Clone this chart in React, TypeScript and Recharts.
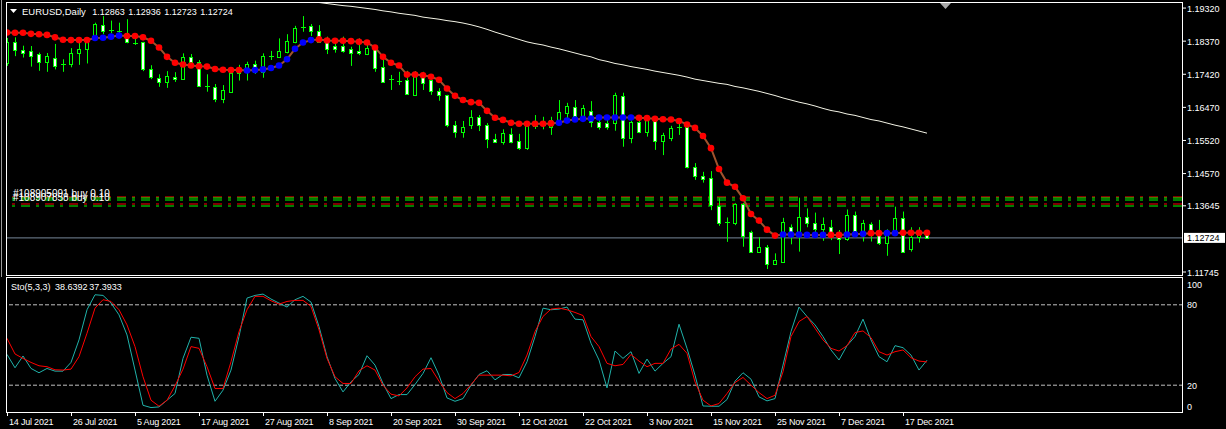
import { Bar, ComposedChart, Line, ReferenceLine, XAxis, YAxis } from "recharts";

// EURUSD daily, 14 Jul 2021 .. 22 Dec 2021 (one entry per trading day)
const opens = [
  1.1773, 1.1834, 1.1811, 1.1808, 1.1799, 1.1778, 1.179, 1.1771, 1.1771, 1.1802,
  1.1814, 1.1842, 1.1884, 1.1867, 1.1867, 1.1861, 1.1833, 1.1834, 1.1758, 1.1732,
  1.1719, 1.1734, 1.1728, 1.1792, 1.1776, 1.1707, 1.1706, 1.1672, 1.1692, 1.1745,
  1.1756, 1.1771, 1.1749, 1.1794, 1.1792, 1.1807, 1.1835, 1.1876, 1.1881, 1.1867,
  1.1837, 1.1822, 1.1822, 1.1814, 1.1809, 1.1801, 1.1817, 1.1762, 1.1728, 1.1724,
  1.1726, 1.1683, 1.1738, 1.1726, 1.1694, 1.1682, 1.1596, 1.1575, 1.1597, 1.1618,
  1.1597, 1.1555, 1.1548, 1.157, 1.155, 1.153, 1.1594, 1.1596, 1.1592, 1.1609,
  1.1632, 1.1647, 1.162, 1.1637, 1.1604, 1.1601, 1.1601, 1.168, 1.156, 1.1604,
  1.1575, 1.1613, 1.1551, 1.1558, 1.1589, 1.159, 1.1477, 1.145, 1.1443, 1.1365,
  1.1316, 1.1316, 1.1369, 1.129, 1.1233, 1.1245, 1.1197, 1.1204, 1.1303, 1.129,
  1.1333, 1.1316, 1.1298, 1.1305, 1.1283, 1.1268, 1.1339, 1.129, 1.1311, 1.1284,
  1.1257, 1.129, 1.1329, 1.124, 1.1274, 1.12863,
];
const highs = [
  1.1846, 1.1848, 1.1824, 1.1823, 1.1804, 1.1803, 1.1829, 1.1785, 1.1817, 1.184,
  1.1843, 1.189, 1.1909, 1.1896, 1.189, 1.19, 1.1854, 1.1835, 1.1768, 1.1742,
  1.1751, 1.1748, 1.1802, 1.18, 1.1783, 1.1742, 1.1714, 1.1711, 1.1749, 1.1769,
  1.1778, 1.1781, 1.1802, 1.1809, 1.1845, 1.1857, 1.1881, 1.1909, 1.1886, 1.1883,
  1.185, 1.1842, 1.185, 1.1821, 1.1845, 1.1833, 1.1821, 1.1783, 1.174, 1.1749,
  1.1752, 1.1751, 1.1749, 1.1735, 1.1702, 1.1683, 1.1608, 1.1608, 1.1639, 1.1625,
  1.1602, 1.1571, 1.1584, 1.1587, 1.1571, 1.1596, 1.1625, 1.162, 1.162, 1.1668,
  1.166, 1.1668, 1.1654, 1.1665, 1.1625, 1.1625, 1.1689, 1.1689, 1.1609, 1.1613,
  1.1616, 1.1617, 1.1574, 1.1594, 1.1609, 1.1601, 1.1487, 1.1462, 1.1464, 1.1386,
  1.1331, 1.1372, 1.1373, 1.1293, 1.1274, 1.1252, 1.1228, 1.133, 1.1311, 1.1388,
  1.1357, 1.1345, 1.1331, 1.1324, 1.1295, 1.1354, 1.1348, 1.1324, 1.1317, 1.1324,
  1.1297, 1.1362, 1.1348, 1.1303, 1.1303, 1.12936,
];
const lows = [
  1.1766, 1.1794, 1.179, 1.1764, 1.1752, 1.1749, 1.1756, 1.1749, 1.1762, 1.1769,
  1.1773, 1.1838, 1.1857, 1.186, 1.185, 1.1831, 1.1826, 1.1751, 1.1728, 1.1706,
  1.1703, 1.172, 1.1726, 1.1768, 1.1706, 1.1692, 1.1662, 1.1659, 1.1691, 1.1724,
  1.1724, 1.1743, 1.1732, 1.1783, 1.1791, 1.1802, 1.1831, 1.1864, 1.1852, 1.1834,
  1.18, 1.1804, 1.1804, 1.1766, 1.1797, 1.1797, 1.1749, 1.1719, 1.1697, 1.1711,
  1.1683, 1.168, 1.1697, 1.1683, 1.1666, 1.159, 1.156, 1.156, 1.1585, 1.1579,
  1.153, 1.1547, 1.154, 1.1544, 1.1525, 1.1525, 1.1585, 1.1584, 1.1568, 1.1606,
  1.1616, 1.1618, 1.1611, 1.159, 1.1583, 1.1583, 1.158, 1.1534, 1.1544, 1.1573,
  1.1563, 1.1525, 1.151, 1.155, 1.1568, 1.1472, 1.1439, 1.1431, 1.1352, 1.1307,
  1.1261, 1.1309, 1.1247, 1.123, 1.1232, 1.1183, 1.1196, 1.1201, 1.1254, 1.1233,
  1.1303, 1.1288, 1.1264, 1.1266, 1.1226, 1.1264, 1.1278, 1.1262, 1.1262, 1.1252,
  1.1221, 1.1286, 1.1232, 1.1233, 1.1259, 1.12723,
];
const closes = [
  1.1835, 1.1812, 1.1804, 1.1795, 1.1778, 1.1794, 1.1767, 1.177, 1.1802, 1.1815,
  1.1842, 1.1885, 1.1867, 1.1868, 1.1862, 1.1834, 1.1832, 1.1758, 1.1733, 1.1719,
  1.1736, 1.1728, 1.1792, 1.1776, 1.1708, 1.1706, 1.167, 1.1697, 1.1745, 1.1756,
  1.1771, 1.1749, 1.1794, 1.1795, 1.1808, 1.1837, 1.1875, 1.1877, 1.1867, 1.1835,
  1.1814, 1.1814, 1.1808, 1.1802, 1.1802, 1.1817, 1.1761, 1.1721, 1.1729, 1.1723,
  1.1685, 1.1737, 1.1718, 1.1693, 1.1683, 1.1596, 1.1575, 1.159, 1.1618, 1.1597,
  1.1555, 1.1548, 1.1573, 1.1548, 1.153, 1.1594, 1.1593, 1.1597, 1.1611, 1.1633,
  1.1651, 1.1622, 1.1644, 1.1604, 1.1592, 1.1592, 1.1683, 1.1558, 1.1604, 1.1575,
  1.1613, 1.1551, 1.1568, 1.1587, 1.159, 1.1477, 1.145, 1.1441, 1.1367, 1.1316,
  1.1317, 1.1369, 1.1279, 1.1233, 1.1245, 1.1197, 1.1209, 1.1317, 1.1287, 1.1333,
  1.1316, 1.1298, 1.1311, 1.1283, 1.1269, 1.1339, 1.1292, 1.1314, 1.1283, 1.1257,
  1.129, 1.1329, 1.1233, 1.1274, 1.1286, 1.12724,
];

// dotted trend indicator (blue dots = rising, red dots = falling)
const trendLine = [
  1.1862, 1.1861, 1.1861, 1.1858, 1.1857, 1.1855, 1.1848, 1.1841, 1.184, 1.184,
  1.184, 1.1846, 1.1847, 1.185, 1.1853, 1.1852, 1.1852, 1.1848, 1.1838, 1.1819,
  1.1792, 1.1775, 1.177, 1.1767, 1.1765, 1.1764, 1.1757, 1.1755, 1.1754, 1.1754,
  1.1753, 1.1754, 1.1756, 1.176, 1.1767, 1.1785, 1.1815, 1.1833, 1.184, 1.1842,
  1.1839, 1.1838, 1.1838, 1.1837, 1.1835, 1.1833, 1.1819, 1.1792, 1.1775, 1.1767,
  1.1741, 1.1741, 1.1739, 1.1735, 1.1726, 1.1701, 1.168, 1.1668, 1.1662, 1.166,
  1.1637, 1.1617, 1.1611, 1.1603, 1.16, 1.16, 1.16, 1.16, 1.1601, 1.1603,
  1.1609, 1.1612, 1.1614, 1.1615, 1.1618, 1.1618, 1.1618, 1.1618, 1.1618, 1.1617,
  1.1616, 1.1614, 1.1613, 1.1612, 1.1608, 1.1598, 1.1588, 1.1565, 1.153, 1.147,
  1.1431, 1.1419, 1.1386, 1.1341, 1.1322, 1.1296, 1.1279, 1.1282, 1.1282, 1.1282,
  1.1281, 1.1281, 1.1281, 1.1281, 1.1281, 1.1282, 1.1283, 1.1284, 1.1286, 1.1286,
  1.1286, 1.1286, 1.1287, 1.1287, 1.1287, 1.1287,
];
const trendUp = [
  0, 0, 0, 0, 0, 0, 0, 0, 0, 0, 0, 1, 1, 1, 1, 0, 0, 0, 0, 0,
  0, 0, 0, 0, 0, 0, 0, 0, 0, 0, 1, 1, 1, 1, 1, 1, 1, 1, 1, 0,
  0, 0, 0, 0, 0, 0, 0, 0, 0, 0, 0, 0, 0, 0, 0, 0, 0, 0, 0, 0,
  0, 0, 0, 0, 0, 0, 0, 0, 0, 1, 1, 1, 1, 1, 1, 1, 1, 1, 1, 0,
  0, 0, 0, 0, 0, 0, 0, 0, 0, 0, 0, 0, 0, 0, 0, 0, 0, 1, 1, 1,
  1, 1, 1, 0, 0, 1, 1, 1, 0, 0, 1, 1, 0, 0, 0, 0,
];

// long moving average, visible from bar 39 on (above the window before that)
const maStart = 39;
const maValues = [
  1.1948, 1.1945, 1.1942, 1.1939, 1.1937, 1.1934, 1.1931, 1.1928, 1.1924, 1.1921,
  1.1917, 1.1914, 1.1911, 1.1906, 1.1903, 1.19, 1.1896, 1.1893, 1.1889, 1.1884,
  1.1878, 1.1871, 1.1863, 1.1856, 1.1849, 1.1842, 1.1835, 1.183, 1.1826, 1.182,
  1.1815, 1.1809, 1.1803, 1.1797, 1.1792, 1.1784, 1.1779, 1.1773, 1.1769, 1.1764,
  1.176, 1.1756, 1.1751, 1.1747, 1.1743, 1.1739, 1.1734, 1.1728, 1.1724, 1.172,
  1.1716, 1.1713, 1.1707, 1.1703, 1.1698, 1.1693, 1.1687, 1.1681, 1.1674, 1.1668,
  1.1662, 1.1657, 1.1651, 1.1644, 1.1638, 1.1634, 1.1628, 1.1624, 1.1618, 1.1612,
  1.1608, 1.1602, 1.1596, 1.1591, 1.1585, 1.1579, 1.1573,
];

// Stochastic(5,3,3)
const stoMain = [
  43, 33, 41.8, 32.5, 29.3, 32.5, 30.5, 30.5, 37, 53.8,
  76.3, 87.5, 87, 81.3, 72.5, 57.5, 31.3, 5, 3.3, 3.8,
  8.8, 13.8, 40, 55.8, 55, 27.5, 8, 16.3, 31.3, 56.3,
  85, 87, 88, 84.3, 81.3, 78.3, 83.8, 86.3, 82, 63.8,
  41.3, 25, 15, 22.5, 28, 42, 35, 21.3, 10, 13,
  13, 20.5, 28.8, 40.5, 27.5, 10.5, 8, 10, 20, 28,
  30.8, 24, 28, 28, 25.5, 37.5, 56.3, 77.5, 76.3, 76.8,
  78.3, 69.3, 68.8, 51.3, 38.8, 18, 45.5, 40, 45, 28.8,
  39.5, 30.5, 36.3, 41.3, 65.5, 47.5, 27.5, 4.5, 4.3, 4.3,
  9.3, 23, 29.3, 24.5, 11.3, 8.3, 10, 35, 60, 78.3,
  71.3, 65, 56.3, 46.3, 38.8, 49.5, 56.3, 69.3, 53.8, 41.3,
  37.5, 49.5, 48, 42.5, 31.3, 38.6392,
];
const stoSignal = [
  55, 43.3, 40, 37, 34.5, 33.8, 31.5, 31.3, 32, 41.3,
  58.8, 77.5, 83.8, 82.5, 76.3, 65, 48.8, 26.3, 8.8, 4.3,
  8.8, 19.5, 32, 48.8, 47.5, 33.8, 17.5, 17.5, 37.5, 60,
  76.3, 86.3, 86.3, 83, 80.5, 82.5, 83.3, 83.3, 78.8, 61.3,
  40, 26.3, 21.3, 21.3, 30.8, 34.5, 31.3, 20, 13.3, 12,
  18, 26.3, 32, 32.5, 23, 14.5, 10, 13.8, 20.5, 27.5,
  27.5, 27.5, 27.5, 27, 29.5, 42.5, 60, 71.3, 76.8, 77.5,
  76.3, 74.3, 72, 56.3, 48.8, 36.3, 34.5, 35.5, 43, 38,
  33.8, 36.3, 36.3, 47, 50.5, 43.8, 22.5, 8.8, 4.5, 6.3,
  13.8, 22, 25.8, 20, 14.5, 10, 12.5, 30, 56.3, 67.5,
  71.3, 62.5, 53.8, 47.5, 45.5, 49.5, 59.3, 60.5, 55.5, 45,
  42.5, 45, 46.3, 40.5, 38, 37.3933,
];

const dateTicks = [0, 8, 16, 24, 32, 40, 48, 56, 64, 72, 80, 88, 96, 104, 112];
const dateLabels = [
  "14 Jul 2021", "26 Jul 2021", "5 Aug 2021", "17 Aug 2021", "27 Aug 2021",
  "8 Sep 2021", "20 Sep 2021", "30 Sep 2021", "12 Oct 2021", "22 Oct 2021",
  "3 Nov 2021", "15 Nov 2021", "25 Nov 2021", "7 Dec 2021", "17 Dec 2021",
];
const priceTicks = [1.1932, 1.1837, 1.1742, 1.1647, 1.1552, 1.1457, 1.13645, 1.11745];
const stoTicks = [100, 80, 20, 0];
const stoLevels = [80, 20];

// open order lines
const orderPrices = [1.13898, 1.13869, 1.13811, 1.13697, 1.13639];
const orderColors = ["#ff0000", "#00ff00", "#00ff00", "#ff0000", "#00ff00"];
const orderLabels = ["#108905091 buy 0.10", "#108907858 buy 0.10"];

const symbol = "EURUSD,Daily";
const lastBar = [1.12863, 1.12936, 1.12723, 1.12724];
const bid = 1.12724;

const X_DOMAIN: [number, number] = [-0.125, 147];
const PRICE_DOMAIN: [number, number] = [1.11659, 1.19494];
const FONT = '"Liberation Sans", Arial, sans-serif';
const FS = 9;
const GREEN = "#00ff00";

const candles = opens.map((open, i) => ({
  i,
  open,
  high: highs[i],
  low: lows[i],
  close: closes[i],
  trend: trendLine[i],
  up: trendUp[i] === 1,
  ma: i >= maStart ? maValues[i - maStart] : null,
}));

const stoData = stoMain.map((main, i) => ({ i, main, signal: stoSignal[i] }));

function Candle(props: any) {
  const { x, y, width, height, payload } = props;
  if (!payload || x == null) return null;
  const top = Math.min(y, y + height);
  const bot = Math.max(y, y + height);
  const range = payload.high - payload.low || 1;
  const py = (v: number) => top + ((payload.high - v) / range) * (bot - top);
  const xc = Math.round(x + width / 2);
  const yo = py(payload.open);
  const yc = py(payload.close);
  const bTop = Math.round(Math.min(yo, yc));
  const bBot = Math.round(Math.max(yo, yc));
  const bear = payload.close < payload.open;
  return (
    <g>
      <line x1={xc + 0.5} x2={xc + 0.5} y1={top} y2={bot} stroke={GREEN} strokeWidth={1} />
      {bBot - bTop < 2 ? (
        <line x1={xc - 2} x2={xc + 3} y1={bTop + 0.5} y2={bTop + 0.5} stroke={GREEN} strokeWidth={1} />
      ) : (
        <rect
          x={xc - 1.5}
          y={bTop + 0.5}
          width={3}
          height={bBot - bTop}
          fill={bear ? "#ffffff" : "#000000"}
          stroke={GREEN}
          strokeWidth={1}
        />
      )}
    </g>
  );
}

function PriceTick(props: any) {
  const { x, y, payload } = props;
  return (
    <text x={x} y={y + 3.5} fill="#ffffff" fontSize={FS} fontFamily={FONT}>
      {Number(payload.value).toFixed(5)}
    </text>
  );
}

function StoTick(props: any) {
  const { x, y, payload } = props;
  const shift = payload.value === 100 ? 6 : payload.value === 0 ? -6 : 0;
  return (
    <text x={x} y={y + shift + 3.5} fill="#ffffff" fontSize={FS} fontFamily={FONT}>
      {payload.value}
    </text>
  );
}

function DateTick(props: any) {
  const { x, y, payload } = props;
  const k = dateTicks.indexOf(payload.value);
  const xc = Math.round(x);
  return (
    <g>
      <line x1={xc + 0.5} x2={xc + 0.5} y1={y} y2={y + 4} stroke="#ffffff" />
      <text x={xc + 2} y={y + 12.5} fill="#ffffff" fontSize={FS} fontFamily={FONT} letterSpacing={-0.2}>
        {dateLabels[k]}
      </text>
    </g>
  );
}

function BidLabel(props: any) {
  const vb = props.viewBox;
  if (!vb) return null;
  const x = vb.x + vb.width + 1;
  const y = vb.y;
  return (
    <g>
      <rect x={x} y={y - 5} width={41} height={10} fill="#ffffff" />
      <text x={x + 3} y={y + 3.5} fill="#000000" fontSize={FS} fontFamily={FONT}>
        {bid.toFixed(5)}
      </text>
    </g>
  );
}

export default function App() {
  const txt = { fill: "#ffffff", fontSize: FS, fontFamily: FONT } as const;
  return (
    <div
      style={{
        position: "fixed",
        left: 0,
        top: 0,
        width: 1226,
        height: 429,
        background: "#000000",
        overflow: "hidden",
      }}
    >
      <div style={{ position: "absolute", left: 0, top: 0 }}>
        <ComposedChart width={1226} height={278} data={candles} margin={{ top: 2, right: 0, bottom: 3, left: 6 }}>
          <XAxis type="number" dataKey="i" domain={X_DOMAIN} allowDataOverflow hide />
          <YAxis
            orientation="right"
            width={43}
            domain={PRICE_DOMAIN}
            allowDataOverflow
            ticks={priceTicks}
            interval={0}
            axisLine={false}
            tickLine={{ stroke: "#ffffff" }}
            tickSize={3}
            tickMargin={1}
            tick={<PriceTick />}
          />
          {orderPrices.map((p, k) => (
            <ReferenceLine
              key={k}
              y={p}
              stroke={orderColors[k]}
              strokeDasharray="3 6 9 6"
              strokeDashoffset={8}
            />
          ))}
          <ReferenceLine y={bid} stroke="#778899" label={BidLabel} />
          <Line dataKey="ma" stroke="#f4f4e6" strokeWidth={1} dot={false} isAnimationActive={false} />
          <Line
            dataKey="trend"
            stroke="#a0522d"
            strokeWidth={2}
            isAnimationActive={false}
            dot={(p: any) => (
              <circle
                key={`t${p.index}`}
                cx={p.cx}
                cy={p.cy}
                r={3.3}
                fill={p.payload && p.payload.up ? "#0000ff" : "#ff0000"}
              />
            )}
          />
          <Bar
            dataKey={(d: any) => [d.low, d.high]}
            barSize={5}
            shape={Candle}
            isAnimationActive={false}
            zIndex={500}
          />
        </ComposedChart>
      </div>

      <div style={{ position: "absolute", left: 0, top: 277 }}>
        <ComposedChart width={1226} height={152} data={stoData} margin={{ top: 1, right: 0, bottom: 0, left: 6 }}>
          <XAxis
            type="number"
            dataKey="i"
            domain={X_DOMAIN}
            allowDataOverflow
            ticks={dateTicks}
            interval={0}
            height={17}
            axisLine={false}
            tickLine={false}
            tickSize={0}
            tickMargin={0}
            tick={<DateTick />}
          />
          <YAxis
            orientation="right"
            width={43}
            domain={[0, 100]}
            ticks={stoTicks}
            interval={0}
            axisLine={false}
            tickLine={false}
            tickSize={0}
            tickMargin={4}
            tick={<StoTick />}
          />
          {stoLevels.map((v) => (
            <ReferenceLine key={v} y={v} stroke="#c0c0c0" strokeDasharray="4 2" />
          ))}
          <Line dataKey="main" stroke="#20b2aa" strokeWidth={1} dot={false} isAnimationActive={false} />
          <Line dataKey="signal" stroke="#ff0000" strokeWidth={1} dot={false} isAnimationActive={false} />
        </ComposedChart>
      </div>

      <svg
        width={1226}
        height={429}
        style={{ position: "absolute", left: 0, top: 0, pointerEvents: "none" }}
      >
        <line x1={1.5} x2={1.5} y1={0} y2={277} stroke="#9a9a9a" />
        <rect x={6.5} y={2.5} width={1176} height={273} fill="none" stroke="#ffffff" />
        <rect x={6.5} y={277.5} width={1176} height={135} fill="none" stroke="#ffffff" />
        <polygon points="940,3 951,3 945.5,9" fill="#a8a8a8" />
        <polygon points="10,9 17,9 13.5,13" fill="#ffffff" />
        <text x={22} y={14.5} {...txt} fontSize={9.5}>{symbol}</text>
        {lastBar.map((v, k) => (
          <text key={k} x={92.3 + k * 36} y={14.5} {...txt}>
            {v.toFixed(5)}
          </text>
        ))}
        {orderLabels.map((s, k) => (
          <text key={s} x={13} y={197 + k * 3.5} {...txt} fontSize={10}>
            {s}
          </text>
        ))}
        <text x={11} y={290} {...txt}>Sto(5,3,3)</text>
        <text x={55} y={290} {...txt}>{stoMain[stoMain.length - 1].toFixed(4)}</text>
        <text x={89.3} y={290} {...txt}>{stoSignal[stoSignal.length - 1].toFixed(4)}</text>
      </svg>
    </div>
  );
}
